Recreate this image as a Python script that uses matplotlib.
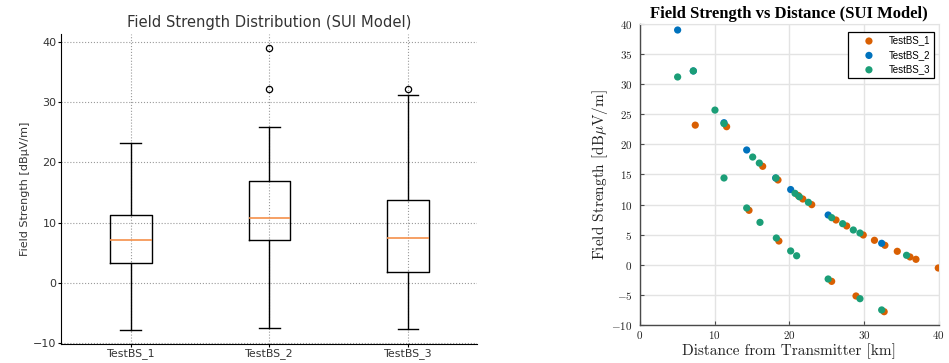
import matplotlib

matplotlib.use("Agg")
import matplotlib.pyplot as plt
from matplotlib.ticker import FuncFormatter, MultipleLocator


# nombres de las estaciones base
BS_LABELS = ["TestBS_1", "TestBS_2", "TestBS_3"]

# estadisticas del diagrama de caja
BOX_MEDIAN = [7.05, 10.8, 7.4]
BOX_Q1 = [3.25, 7.1, 1.8]
BOX_Q3 = [11.3, 16.85, 13.7]
WHISKER_LOW = [-7.75, -7.5, -7.6]
WHISKER_HIGH = [23.2, 25.8, 31.1]
FLIERS = [[], [38.9, 32.2], [32.2]]

# intensidad de campo frente a distancia
BS1_DIST = [7.4, 11.6, 14.6, 16.43, 18.48, 18.6, 21.2, 21.8, 23.0, 25.67, 26.25,
            27.68, 28.93, 29.9, 31.4, 32.7, 32.8, 34.46, 36.16, 36.96, 39.95]
BS1_FIELD = [23.2, 22.94, 9.05, 16.36, 14.09, 3.95, 11.5, 10.93, 9.99, -2.75, 7.44,
             6.45, -5.18, 4.95, 4.07, -7.79, 3.24, 2.24, 1.3, 0.91, -0.53]

BS2_DIST = [5.04, 7.14, 11.25, 14.29, 18.17, 20.18, 25.2, 32.37]
BS2_FIELD = [39.0, 32.2, 23.6, 19.07, 14.42, 12.5, 8.27, 3.57]

BS3_DIST = [5.04, 7.14, 10.04, 11.25, 11.25, 14.29, 15.09, 15.98, 16.07, 18.21,
            18.26, 20.18, 20.76, 20.98, 21.34, 22.55, 25.2, 25.67, 27.14, 28.57,
            29.46, 29.46, 32.37, 35.7]
BS3_FIELD = [31.2, 32.2, 25.7, 23.45, 14.42, 9.44, 17.9, 16.9, 7.05, 14.42,
             4.45, 2.3, 11.87, 1.5, 11.3, 10.38, -2.36, 7.83, 6.83, 5.78,
             5.28, -5.63, -7.5, 1.58]

SCATTER_COLORS = ["#D95F02", "#0072BD", "#1B9E77"]

plt.rcParams["mathtext.fontset"] = "cm"


def dibujar_cajas(ax):
    gris = "#333333"
    stats = []
    for i, etiqueta in enumerate(BS_LABELS):
        stats.append({
            "label": etiqueta,
            "med": BOX_MEDIAN[i],
            "q1": BOX_Q1[i],
            "q3": BOX_Q3[i],
            "whislo": WHISKER_LOW[i],
            "whishi": WHISKER_HIGH[i],
            "fliers": FLIERS[i],
        })

    ax.bxp(
        stats,
        widths=0.3,
        boxprops={"color": "black", "linewidth": 1.0},
        whiskerprops={"color": "black", "linewidth": 1.0},
        capprops={"color": "black", "linewidth": 1.0},
        medianprops={"color": "#F5904A", "linewidth": 1.2},
        flierprops={"marker": "o", "markerfacecolor": "none",
                    "markeredgecolor": "black", "markersize": 4.5,
                    "markeredgewidth": 0.9},
    )

    ax.set_title("Field Strength Distribution (SUI Model)", fontsize=10.6,
                 color=gris, pad=5)
    ax.set_ylabel("Field Strength [dBμV/m]", fontsize=8.0, color=gris,
                  labelpad=2)
    ax.grid(True, linestyle=":", color="#9a9a9a", linewidth=0.8)
    ax.set_axisbelow(True)
    ax.spines["top"].set_visible(False)
    ax.spines["right"].set_visible(False)
    ax.tick_params(labelsize=8, colors="black", labelcolor=gris,
                   length=2, width=0.8, pad=1.5)
    ax.tick_params(axis="x", labelsize=7.9)


def dibujar_dispersion(ax):
    series = [
        (BS1_DIST, BS1_FIELD),
        (BS2_DIST, BS2_FIELD),
        (BS3_DIST, BS3_FIELD),
    ]
    for (dist, campo), color, etiqueta in zip(series, SCATTER_COLORS, BS_LABELS):
        ax.scatter(dist, campo, s=27, color=color, label=etiqueta,
                   edgecolors="none", zorder=3)

    ax.set_xlim(0, 40)
    ax.set_ylim(-10, 40)
    ax.xaxis.set_major_locator(MultipleLocator(10))
    ax.yaxis.set_major_locator(MultipleLocator(5))
    fmt = FuncFormatter(lambda v, pos: f"${v:g}$")
    ax.xaxis.set_major_formatter(fmt)
    ax.yaxis.set_major_formatter(fmt)

    ax.grid(True, color="#e3e3e3", linewidth=1.0)
    ax.set_axisbelow(True)
    for lado in ["top", "right"]:
        ax.spines[lado].set_color("#e3e3e3")
    for lado in ["left", "bottom"]:
        ax.spines[lado].set_color("#4a4a4a")
        ax.spines[lado].set_linewidth(1.0)
    ax.tick_params(direction="in", length=3, width=0.8, colors="#4a4a4a",
                   labelcolor="#222222", labelsize=8)
    ax.tick_params(axis="x", pad=2.8)
    ax.tick_params(axis="y", pad=5.5)

    ax.set_title("Field Strength vs Distance (SUI Model)", fontsize=12,
                 fontweight="bold", family="Liberation Serif", pad=4)
    ax.set_xlabel("Distance from Transmitter [km]", fontsize=11,
                  family="cmr10", color="#222222", labelpad=2)
    ax.set_ylabel(r"Field Strength [dB$\mu$V/m]", fontsize=11,
                  family="cmr10", color="#222222", labelpad=0.5)

    leyenda = ax.legend(
        loc="upper right",
        bbox_to_anchor=(1 - 4.4 / 298.7, 1 - 7.7 / 301),
        borderaxespad=0,
        prop={"family": "Liberation Sans", "size": 7},
        frameon=True,
        fancybox=False,
        framealpha=1,
        edgecolor="black",
        handlelength=3.6,
        handletextpad=0.25,
        labelspacing=0.45,
        scatterpoints=1,
    )
    leyenda.get_frame().set_linewidth(0.9)


def main():
    fig = plt.figure(figsize=(9.49, 3.63), dpi=100)
    ax_caja = fig.add_axes([0.0648, 0.0535, 0.4381, 0.852])
    ax_disp = fig.add_axes([0.6744, 0.1047, 0.3147, 0.8292])

    dibujar_cajas(ax_caja)
    dibujar_dispersion(ax_disp)

    fig.savefig("out.png", dpi=100)
    plt.close(fig)


if __name__ == "__main__":
    main()
